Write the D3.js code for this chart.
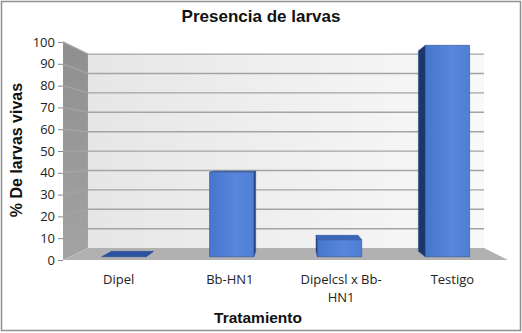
<!DOCTYPE html>
<html><head><meta charset="utf-8">
<script src="https://cdn.jsdelivr.net/npm/d3@7"></script>
<style>body{margin:0;background:#fff}svg{display:block}</style>
</head><body><svg id="c" width="522" height="333"></svg>
<script>
const categories = ["Dipel", "Bb-HN1", "Dipelcsl x Bb-HN1", "Testigo"];
const categoryLabels = [["Dipel"], ["Bb-HN1"], ["Dipelcsl x Bb-", "HN1"], ["Testigo"]];
const values = [0, 40, 8, 100];
const yTicks = [0, 10, 20, 30, 40, 50, 60, 70, 80, 90, 100];
const title = "Presencia de larvas";
const yTitle = "% De larvas vivas";
const xTitle = "Tratamiento";

const svg = d3.select("#c");
const W = 522, H = 333;
// perspective layout
const VX = 290, VY = 152;      // vanishing point
const S_BACK = 0.89;           // back wall depth factor
const S_BF = 0.97, S_BB = 0.92; // bar front / back depth
const proj = (X, Y, s) => [VX + (X - VX) * s, VY + (Y - VY) * s];

const x = d3.scaleBand().domain(categories).range([63, 508]).paddingInner(0.59).paddingOuter(0.295);
const y = d3.scaleLinear().domain([0, 100]).range([260, 42]);

const defs = svg.append("defs");
const gBack = defs.append("linearGradient").attr("id", "gBack").attr("x1", 0).attr("x2", 1).attr("y1", 0).attr("y2", 0);
gBack.append("stop").attr("offset", 0).attr("stop-color", "#e6e6e6");
gBack.append("stop").attr("offset", 1).attr("stop-color", "#f9f9f9");
const gSide = defs.append("linearGradient").attr("id", "gSide").attr("x1", 0).attr("x2", 0).attr("y1", 0).attr("y2", 1);
gSide.append("stop").attr("offset", 0).attr("stop-color", "#8f8f8f");
gSide.append("stop").attr("offset", 1).attr("stop-color", "#a3a3a3");
const gFront = defs.append("linearGradient").attr("id", "gFront").attr("x1", 0).attr("x2", 1).attr("y1", 0).attr("y2", 0);
gFront.append("stop").attr("offset", 0).attr("stop-color", "#4677cc");
gFront.append("stop").attr("offset", 0.6).attr("stop-color", "#5886dc");
gFront.append("stop").attr("offset", 1).attr("stop-color", "#4f7fd5");

svg.append("rect").attr("x", 1.5).attr("y", 1.5).attr("width", W - 3).attr("height", H - 4)
  .attr("fill", "#fff").attr("stroke", "#8f8f8f").attr("stroke-width", 1.5);

const line = d3.line();
const poly = pts => line(pts) + "Z";
const X0 = x.range()[0], X1 = x.range()[1];
const Y0 = y(0), Y100 = y(100);

// back wall
svg.append("path").attr("d", poly([proj(X0, Y100, S_BACK), proj(X1, Y100, S_BACK), proj(X1, Y0, S_BACK), proj(X0, Y0, S_BACK)]))
  .attr("fill", "url(#gBack)");
// side wall
svg.append("path").attr("d", poly([[X0, Y100], proj(X0, Y100, S_BACK), proj(X0, Y0, S_BACK), [X0, Y0]]))
  .attr("fill", "url(#gSide)");
// floor
svg.append("path").attr("d", poly([[X0, Y0], proj(X0, Y0, S_BACK), proj(X1, Y0, S_BACK), [X1, Y0]]))
  .attr("fill", "#b1b1b1");

// gridlines
const grid = svg.append("g").attr("stroke", "#a4a4a4").attr("stroke-width", 1.4).attr("fill", "none");
yTicks.filter(v => v > 0).forEach(v => {
  grid.append("path").attr("d", line([[X0, y(v)], proj(X0, y(v), S_BACK), proj(X1, y(v), S_BACK)]));
});

// axis
const axis = d3.axisLeft(y).tickValues(yTicks).tickSize(5).tickPadding(3);
const ag = svg.append("g").attr("transform", `translate(${X0},0)`).call(axis);
ag.select(".domain").remove();
ag.selectAll(".tick line").attr("stroke", "#8a8a8a");
ag.selectAll(".tick text").attr("font-family", "'Open Sans', sans-serif").attr("font-size", 13).attr("fill", "#222");

// bars
const bars = svg.append("g");
categories.forEach((c, i) => {
  const a = x(c), b = a + x.bandwidth();
  const yt = y(values[i]), yb = y(0);
  const g = bars.append("g").attr("stroke", "#2d5296").attr("stroke-width", 0.6).attr("stroke-linejoin", "round");
  if (a > VX) {
    g.append("path").attr("d", poly([proj(a, yt, S_BB), proj(a, yt, S_BF), proj(a, yb, S_BF), proj(a, yb, S_BB)])).attr("fill", "#1d3868");
  }
  if (b < VX) {
    g.append("path").attr("d", poly([proj(b, yt, S_BB), proj(b, yt, S_BF), proj(b, yb, S_BF), proj(b, yb, S_BB)])).attr("fill", "#23437c");
  }
  if (yt > VY) {
    g.append("path").attr("d", poly([proj(a, yt, S_BB), proj(b, yt, S_BB), proj(b, yt, S_BF), proj(a, yt, S_BF)]))
      .attr("fill", values[i] === 0 ? "#2a52a0" : "#3a66bb");
  }
  if (yb - yt > 0) {
    g.append("path").attr("d", poly([proj(a, yt, S_BF), proj(b, yt, S_BF), proj(b, yb, S_BF), proj(a, yb, S_BF)])).attr("fill", "url(#gFront)");
  }
});

// category labels
const cl = svg.append("g").attr("font-family", "'Open Sans', sans-serif").attr("font-size", 13).attr("fill", "#222").attr("text-anchor", "middle");
categories.forEach((c, i) => {
  const cx = x(c) + x.bandwidth() / 2;
  categoryLabels[i].forEach((t, j) => {
    cl.append("text").attr("x", cx).attr("y", 284 + j * 18).text(t);
  });
});

// titles
svg.append("text").attr("x", 261).attr("y", 22).attr("text-anchor", "middle")
  .attr("font-family", "'Liberation Sans', Arial, sans-serif").attr("font-weight", "bold").attr("font-size", 17).attr("fill", "#111").text(title);
svg.append("text").attr("transform", "translate(22,150) rotate(-90)").attr("text-anchor", "middle")
  .attr("font-family", "'Liberation Sans', Arial, sans-serif").attr("font-weight", "bold").attr("font-size", 16).attr("fill", "#111").text(yTitle);
svg.append("text").attr("x", 258).attr("y", 323).attr("text-anchor", "middle")
  .attr("font-family", "'Liberation Sans', Arial, sans-serif").attr("font-weight", "bold").attr("font-size", 15.5).attr("fill", "#111").text(xTitle);
</script></body></html>
